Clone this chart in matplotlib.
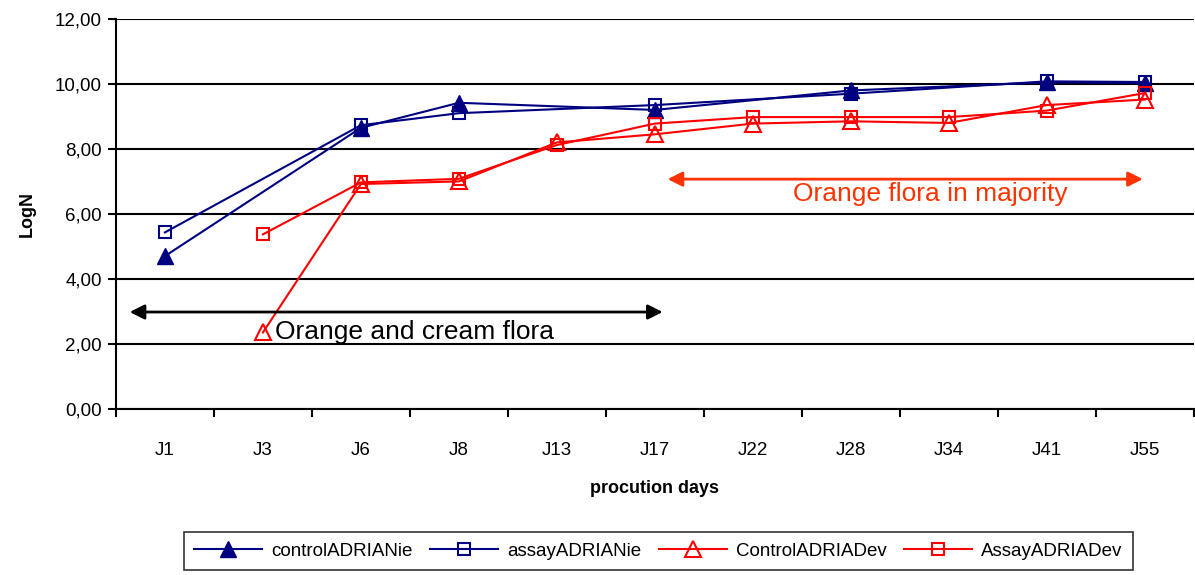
import numpy as np
import matplotlib.pyplot as plt
from matplotlib.ticker import FuncFormatter, FixedLocator

plt.rcParams['font.family'] = ['Liberation Sans', 'DejaVu Sans']

# Production days and log counts (nan = not sampled that day)
days = ['J1', 'J3', 'J6', 'J8', 'J13', 'J17', 'J22', 'J28', 'J34', 'J41', 'J55']
nan = np.nan
control_nie = [4.70, nan, 8.65, 9.42, nan, 9.20, nan, 9.80, nan, 10.05, 10.03]
assay_nie = [5.43, nan, 8.73, 9.10, nan, 9.35, nan, 9.70, nan, 10.08, 10.06]
control_dev = [nan, 2.35, 6.92, 7.00, 8.20, 8.45, 8.78, 8.85, 8.80, 9.35, 9.52]
assay_dev = [nan, 5.37, 6.97, 7.08, 8.12, 8.78, 8.98, 8.98, 8.98, 9.18, 9.72]

navy = '#000080'
red = '#FF0000'
orange = '#FF3300'

fig = plt.figure(figsize=(11.95, 5.75), dpi=100)
ax = fig.add_axes([0.097, 0.289, 0.902, 0.678])

x = np.arange(len(days))


def draw(vals, **kw):
    v = np.array(vals, dtype=float)
    ok = ~np.isnan(v)
    return ax.plot(x[ok], v[ok], lw=1.5, **kw)[0]


h1 = draw(control_nie, color=navy, marker='^', ms=11, mfc=navy, mec=navy,
          label='controlADRIANie')
h2 = draw(assay_nie, color=navy, marker='s', ms=9, mfc='none', mec=navy,
          mew=1.5, label='assayADRIANie')
h3 = draw(control_dev, color=red, marker='^', ms=11, mfc='none', mec=red,
          mew=1.5, label='ControlADRIADev')
h4 = draw(assay_dev, color=red, marker='s', ms=9, mfc='none', mec=red,
          mew=1.5, label='AssayADRIADev')

ax.set_xlim(-0.5, len(days) - 0.5)
ax.set_ylim(0, 12)
ax.set_yticks(np.arange(0, 13, 2))
ax.yaxis.set_major_formatter(FuncFormatter(lambda v, p: f'{v:.2f}'.replace('.', ',')))
ax.yaxis.grid(True, color='black', lw=1.5)
ax.set_axisbelow(True)

# category labels in the middle, tick marks on the boundaries
ax.set_xticks(x)
ax.set_xticklabels(days)
ax.tick_params(axis='x', which='major', length=0, pad=24, labelsize=13.5)
ax.xaxis.set_minor_locator(FixedLocator(np.arange(-0.5, len(days), 1)))
ax.tick_params(axis='x', which='minor', length=6, width=1.5, direction='out')
ax.tick_params(axis='y', length=6, width=1.5, direction='out', labelsize=13.5, pad=4)

for s in ['top', 'right']:
    ax.spines[s].set_visible(False)
for s in ['left', 'bottom']:
    ax.spines[s].set_linewidth(1.5)

ax.set_xlabel('procution days', fontsize=13, fontweight='bold', labelpad=15)
ax.set_ylabel('LogN', fontsize=13, fontweight='bold', labelpad=14)

# flora periods
ax.annotate('', xy=(-0.36, 2.98), xytext=(5.08, 2.98),
            arrowprops=dict(arrowstyle='<|-|>', color='black', lw=2,
                            mutation_scale=22, shrinkA=0, shrinkB=0))
ax.text(1.12, 2.36, 'Orange and cream flora', fontsize=19, color='black',
        va='center', ha='left')
ax.annotate('', xy=(5.13, 7.07), xytext=(9.98, 7.07),
            arrowprops=dict(arrowstyle='<|-|>', color=orange, lw=2,
                            mutation_scale=22, shrinkA=0, shrinkB=0))
ax.text(6.41, 6.6, 'Orange flora in majority', fontsize=19, color=orange,
        va='center', ha='left')

leg = fig.legend(handles=[h1, h2, h3, h4], loc='lower center',
                 bbox_to_anchor=(0.551, -0.008), ncol=4, fontsize=13.5,
                 frameon=True, fancybox=False, edgecolor='black',
                 handlelength=3.6, columnspacing=0.95, handletextpad=0.5,
                 borderpad=0.55)
leg.get_frame().set_linewidth(1.2)

fig.savefig('out.png', dpi=100)
